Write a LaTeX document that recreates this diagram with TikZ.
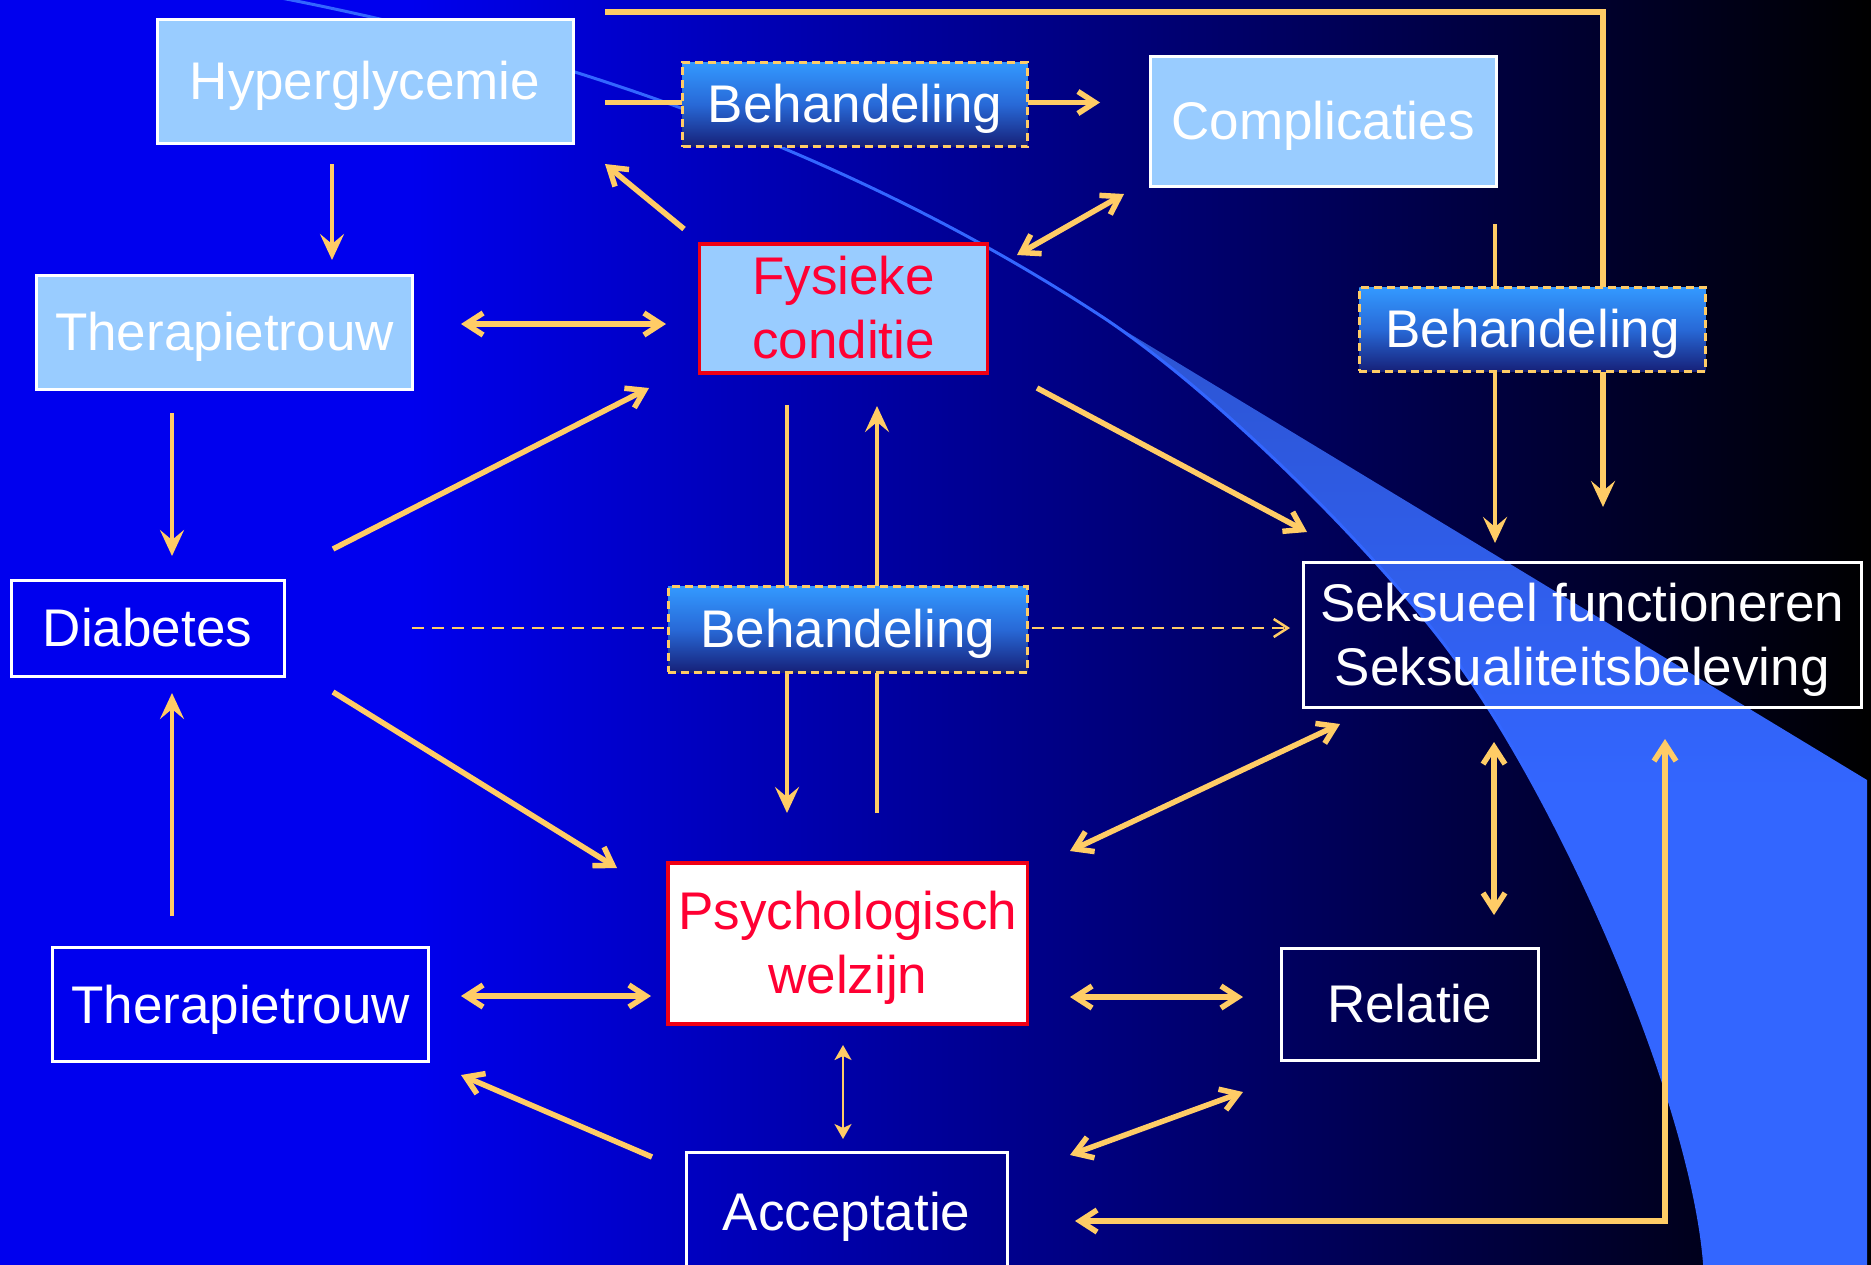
\documentclass[tikz,border=0pt]{standalone}
\usepackage{fontspec}
\setmainfont{Liberation Sans}
\usetikzlibrary{arrows.meta}
\definecolor{bgblue}{RGB}{0,0,238}
\definecolor{arr}{RGB}{255,204,102}
\definecolor{ltblue}{RGB}{153,204,255}
\definecolor{swoosh}{RGB}{51,102,255}
\definecolor{swooshdk}{RGB}{44,84,210}
\definecolor{bhtop}{RGB}{51,153,255}
\definecolor{bhmid}{RGB}{40,105,215}
\definecolor{bhbot}{RGB}{22,32,120}
\definecolor{redtxt}{RGB}{255,0,51}
\definecolor{redline}{RGB}{240,0,20}
\pgfdeclarelayer{bg}
\pgfdeclarelayer{arrlayer}
\pgfsetlayers{bg,arrlayer,main}
\tikzset{
  lbl/.style={font=\fontsize{26.5pt}{32pt}\selectfont, text height=24pt, text depth=5.6pt, inner sep=0pt, outer sep=0pt, align=center},
  twolines/.style={text height=56pt},
  litebox/.style={lbl, fill=ltblue, draw=white, line width=1.5pt, text=white},
  outlinebox/.style={lbl, draw=white, line width=1.5pt, text=white},
  redbox/.style={lbl, draw=redline, line width=1.75pt, text=redtxt},
  behbox/.style={lbl, top color=bhtop, bottom color=bhbot, middle color=bhmid, draw=arr, line width=1.5pt, dash pattern=on 4pt off 2.5pt, text=white},
  ohead/.tip={Straight Barb[length=8.5pt,width=11pt]},
  shead/.tip={Stealth[length=13pt,width=12pt,inset=5pt]},
  smallhead/.tip={Stealth[length=7.5pt,width=8.5pt,inset=2pt]},
  dhead/.tip={Straight Barb[length=7pt,width=9pt]},
  fatarr/.style={draw=arr, line width=2.75pt},
  thinarr/.style={draw=arr, line width=2.25pt},
}
\newcommand{\bx}[7]{\node[#6, minimum width={(#4-(#2))*0.5pt}, minimum height={(#5-(#3))*0.5pt}] (#1) at ({(#2+#4)/2},{(#3+#5)/2}) {#7};}
\begin{document}
\begin{tikzpicture}[x=0.5pt,y=-0.5pt]
\useasboundingbox (0,0) rectangle (1871,1264);
\clip (0,0) rectangle (1871,1264);
% boxes
\bx{hyp}{157}{19.5}{573}{143}{litebox}{Hyperglycemie}
\bx{beh1}{682.6}{62}{1027.7}{146.5}{behbox}{Behandeling}
\bx{comp}{1150}{56.4}{1496}{186.4}{litebox}{Complicaties}
\bx{ther1}{36.5}{275.7}{412.5}{389}{litebox}{Therapietrouw}
\bx{fys}{699.4}{244}{987.7}{373}{redbox,fill=ltblue,twolines}{Fysieke\\conditie}
\bx{beh2}{1359.4}{287.5}{1705.7}{371.4}{behbox}{Behandeling}
\bx{diab}{11}{580}{284}{676.7}{outlinebox}{Diabetes}
\bx{beh3}{668}{586.7}{1027.7}{672.3}{behbox}{Behandeling}
\bx{seks}{1303.5}{562.4}{1861}{707}{outlinebox,twolines}{Seksueel functioneren\\Seksualiteitsbeleving}
\bx{psy}{668}{863}{1027.7}{1024}{redbox,fill=white,twolines}{Psychologisch\\welzijn}
\bx{ther2}{52.6}{947.7}{428.6}{1061.7}{outlinebox}{Therapietrouw}
\bx{rel}{1281}{948}{1538.4}{1060.4}{outlinebox}{Relatie}
\bx{acc}{686}{1152.3}{1007.4}{1272}{outlinebox}{Acceptatie}
% background
\begin{pgfonlayer}{bg}
  \fill[bgblue] (-10,-10) rectangle (412,1280);
  \shade[left color=bgblue, right color=black] (411,-10) rectangle (1871,1280);
  \shade[top color=swooshdk, bottom color=swoosh, middle color=swoosh] (1107,320) .. controls (1225,400) and (1390,565) .. (1463,670) .. controls (1570,822) and (1695,1110) .. (1705,1270) -- (1867,1270) -- (1867,780) -- cycle;
  \draw[swoosh, line width=1.5pt] (281,-2) .. controls (600,60) and (880,170) .. (1107,320) .. controls (1225,400) and (1390,565) .. (1463,670) .. controls (1570,822) and (1695,1110) .. (1705,1270);
\end{pgfonlayer}
% connector end points
\coordinate (t1s) at (605,12);
\coordinate (t1m) at (1603,12);
\coordinate (t1e) at (1603,507);
\coordinate (a2s) at (605,102.5);
\coordinate (a2e) at (1100,102.5);
\coordinate (a3s) at (332,164);
\coordinate (a3e) at (332,260);
\coordinate (a4s) at (684,229);
\coordinate (a4e) at (605,164);
\coordinate (a5s) at (461,324);
\coordinate (a5e) at (666,324);
\coordinate (a6s) at (1017,255);
\coordinate (a6e) at (1124,194);
\coordinate (a7s) at (172,413);
\coordinate (a7e) at (172,556);
\coordinate (a8s) at (333,549);
\coordinate (a8e) at (649,388);
\coordinate (a9s) at (333,692);
\coordinate (a9e) at (617,868);
\coordinate (a10s) at (172,916);
\coordinate (a10e) at (172,693);
\coordinate (a11s) at (787,405);
\coordinate (a11e) at (787,813);
\coordinate (a12s) at (877,813);
\coordinate (a12e) at (877,406);
\coordinate (a13s) at (412,628);
\coordinate (a13e) at (1290,628);
\coordinate (a14s) at (1037,388);
\coordinate (a14e) at (1307,532);
\coordinate (a15s) at (1495,224);
\coordinate (a15e) at (1495,543);
\coordinate (a16s) at (1340,724);
\coordinate (a16e) at (1070,851);
\coordinate (a17s) at (1494,742);
\coordinate (a17e) at (1494,915);
\coordinate (a18s) at (1070,997);
\coordinate (a18e) at (1243,997);
\coordinate (a19s) at (1243,1092);
\coordinate (a19e) at (1070,1155);
\coordinate (a20s) at (1075,1221);
\coordinate (a20m) at (1665,1221);
\coordinate (a20e) at (1665,739);
\coordinate (a21s) at (843,1045);
\coordinate (a21e) at (843,1139);
\coordinate (a22s) at (461,996);
\coordinate (a22e) at (651,996);
\coordinate (a23s) at (652,1157);
\coordinate (a23e) at (461,1075);
\begin{pgfonlayer}{arrlayer}
  \draw[fatarr, -shead] (t1s) -- (t1m) -- (t1e);
  \draw[fatarr, -ohead] (a2s) -- (a2e);
  \draw[thinarr, -shead] (a3s) -- (a3e);
  \draw[fatarr, -ohead] (a4s) -- (a4e);
  \draw[fatarr, ohead-ohead] (a5s) -- (a5e);
  \draw[fatarr, ohead-ohead] (a6s) -- (a6e);
  \draw[thinarr, -shead] (a7s) -- (a7e);
  \draw[fatarr, -ohead] (a8s) -- (a8e);
  \draw[fatarr, -ohead] (a9s) -- (a9e);
  \draw[thinarr, -shead] (a10s) -- (a10e);
  \draw[thinarr, -shead] (a11s) -- (a11e);
  \draw[thinarr, -shead] (a12s) -- (a12e);
  \draw[draw=arr, line width=1.25pt, dash pattern=on 6pt off 4pt, -dhead] (a13s) -- (a13e);
  \draw[fatarr, -ohead] (a14s) -- (a14e);
  \draw[thinarr, -shead] (a15s) -- (a15e);
  \draw[fatarr, ohead-ohead] (a16s) -- (a16e);
  \draw[fatarr, ohead-ohead] (a17s) -- (a17e);
  \draw[fatarr, ohead-ohead] (a18s) -- (a18e);
  \draw[fatarr, ohead-ohead] (a19s) -- (a19e);
  \draw[fatarr, ohead-ohead] (a20s) -- (a20m) -- (a20e);
  \draw[draw=arr, line width=1.1pt, smallhead-smallhead] (a21s) -- (a21e);
  \draw[fatarr, ohead-ohead] (a22s) -- (a22e);
  \draw[fatarr, -ohead] (a23s) -- (a23e);
\end{pgfonlayer}
\end{tikzpicture}
\end{document}
